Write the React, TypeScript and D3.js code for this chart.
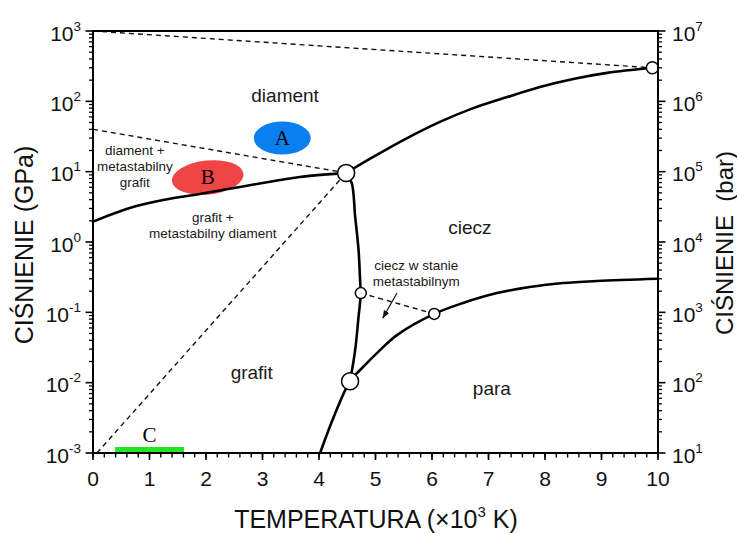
import React from "react";
import * as d3 from "d3";

const W = 737;
const H = 534;

// Phase boundaries of carbon, as [T (×10³ K), p (GPa)]
const graphiteDiamond: [number, number][] = [
  [0, 1.95], [0.65, 3.05], [1.24, 3.96], [1.89, 4.82], [2.6, 6.06],
  [3.31, 7.62], [3.66, 8.41], [4.48, 9.6],
];
const diamondLiquid: [number, number][] = [
  [4.48, 9.6], [4.96, 16.2], [5.56, 30], [6.14, 51], [6.73, 80],
  [7.33, 115], [7.91, 160], [8.5, 208], [9.1, 254], [9.9, 300],
];
const graphiteLiquid: [number, number][] = [
  [4.48, 9.6], [4.58, 6.85], [4.64, 2.29], [4.7, 0.77], [4.73, 0.259],
  [4.74, 0.188], [4.7, 0.0866], [4.64, 0.029], [4.55, 0.0105],
];
const liquidVapour: [number, number][] = [
  [4.02, 0.001], [4.25, 0.0031], [4.55, 0.0105], [4.78, 0.0167], [5.08, 0.029],
  [5.38, 0.0475], [6.04, 0.095], [6.55, 0.136], [7.15, 0.188], [7.73, 0.229],
  [8.32, 0.261], [8.92, 0.279], [10, 0.3],
];

// Metastable extensions, drawn dashed
const metastableLines: [number, number][][] = [
  [[0, 1000], [9.9, 300]],
  [[0, 40], [4.48, 9.6]],
  [[0.07, 0.001], [4.48, 9.6]],
  [[4.74, 0.188], [6.04, 0.095]],
];

// Special points on the diagram
const points: { T: number; p: number; kind: "triple" | "end" | "meta" }[] = [
  { T: 4.48, p: 9.6, kind: "triple" },
  { T: 4.55, p: 0.0105, kind: "triple" },
  { T: 9.9, p: 300, kind: "end" },
  { T: 4.74, p: 0.188, kind: "meta" },
  { T: 6.04, p: 0.095, kind: "meta" },
];

// Highlighted regions
const regionA = { T: 3.35, p: 30, label: "A" };
const regionB = { T: 2.03, p: 8.27, label: "B" };
const regionC = { T0: 0.39, T1: 1.61, p: 0.001, label: "C", labelT: 1.0 };

// Arrow into the metastable liquid region
const arrow: [number, number][] = [[5.38, 0.188], [5.13, 0.083]];

// Region labels: text lines, T and p of the first baseline
const regionLabels: { lines: string[]; T: number; p: number; big: boolean }[] = [
  { lines: ["diament"], T: 3.4, p: 98, big: true },
  { lines: ["diament +", "metastabilny", "grafit"], T: 0.74, p: 17.3, big: false },
  { lines: ["grafit +", "metastabilny diament"], T: 2.12, p: 1.92, big: false },
  { lines: ["ciecz"], T: 6.67, p: 1.3, big: true },
  { lines: ["ciecz w stanie", "metastabilnym"], T: 5.72, p: 0.4, big: false },
  { lines: ["grafit"], T: 2.81, p: 0.0113, big: true },
  { lines: ["para"], T: 7.06, p: 0.0067, big: true },
];

const xMajor = d3.range(0, 11, 1);
const xMinor = d3.range(0, 10.001, 0.2);
const leftExponents = [-3, -2, -1, 0, 1, 2, 3];
const rightExponents = [1, 2, 3, 4, 5, 6, 7];

const SANS = "'Liberation Sans', Arial, sans-serif";
const SERIF = "'Liberation Serif', 'Times New Roman', serif";

export default function App() {
  const x = d3.scaleLinear().domain([0, 10]).range([93, 658]);
  const y = d3.scaleLog().domain([1e-3, 1e3]).range([453, 31]);
  const yBar = d3.scaleLog().domain([1e1, 1e7]).range([453, 31]);

  const curve = d3
    .line<[number, number]>()
    .x((d) => x(d[0]))
    .y((d) => y(d[1]))
    .curve(d3.curveCatmullRom.alpha(0.5));
  const straight = d3
    .line<[number, number]>()
    .x((d) => x(d[0]))
    .y((d) => y(d[1]));

  const minorLog = (lo: number, hi: number) => {
    const out: number[] = [];
    for (let k = lo; k < hi; k++) for (let m = 2; m <= 9; m++) out.push(m * Math.pow(10, k));
    return out;
  };
  const leftMinor = minorLog(-3, 3);
  const rightMinor = minorLog(1, 7);

  const radius = { triple: 8.5, end: 6, meta: 5.5 };

  const x0 = x(0), x1 = x(10), yTop = y(1e3), yBot = y(1e-3);

  return (
    <svg
      width={W}
      height={H}
      style={{ position: "absolute", left: 0, top: 0, background: "#fff" }}
      fontFamily={SANS}
    >
      <defs>
        <marker id="arrowHead" viewBox="0 0 10 10" refX="9" refY="5" markerWidth="7" markerHeight="9" orient="auto">
          <path d="M0,1.5 L10,5 L0,8.5 z" fill="#111" />
        </marker>
      </defs>
      <rect width={W} height={H} fill="#fff" />

      {/* highlighted regions */}
      <ellipse cx={x(regionA.T)} cy={y(regionA.p)} rx={28.5} ry={16.5} fill="#0a80f0" />
      <ellipse
        cx={x(regionB.T)}
        cy={y(regionB.p)}
        rx={36}
        ry={17}
        fill="#f04545"
        transform={`rotate(-6 ${x(regionB.T)} ${y(regionB.p)})`}
      />
      <rect
        x={x(regionC.T0)}
        y={y(regionC.p) - 6}
        width={x(regionC.T1) - x(regionC.T0)}
        height={5.5}
        fill="#22e622"
      />

      {/* metastable extensions */}
      {metastableLines.map((l, i) => (
        <path key={i} d={straight(l) || ""} fill="none" stroke="#111" strokeWidth={1.4} strokeDasharray="5,4" />
      ))}

      {/* phase boundaries */}
      {[graphiteDiamond, diamondLiquid, graphiteLiquid, liquidVapour].map((c, i) => (
        <path key={i} d={curve(c) || ""} fill="none" stroke="#000" strokeWidth={2.6} strokeLinecap="round" />
      ))}

      {/* arrow */}
      <line
        x1={x(arrow[0][0])}
        y1={y(arrow[0][1])}
        x2={x(arrow[1][0])}
        y2={y(arrow[1][1])}
        stroke="#111"
        strokeWidth={1.2}
        markerEnd="url(#arrowHead)"
      />

      {/* special points */}
      {points.map((pt, i) => (
        <circle key={i} cx={x(pt.T)} cy={y(pt.p)} r={radius[pt.kind]} fill="#fff" stroke="#000" strokeWidth={1.5} />
      ))}

      {/* region letters */}
      <text x={x(regionA.T)} y={y(regionA.p) + 7} textAnchor="middle" fontFamily={SERIF} fontSize={21} fill="#000">
        {regionA.label}
      </text>
      <text x={x(regionB.T)} y={y(regionB.p) + 7} textAnchor="middle" fontFamily={SERIF} fontSize={21} fill="#000">
        {regionB.label}
      </text>
      <text x={x(regionC.labelT)} y={y(regionC.p) - 11} textAnchor="middle" fontFamily={SERIF} fontSize={21} fill="#000">
        {regionC.label}
      </text>

      {/* region names */}
      {regionLabels.map((r, i) => (
        <text
          key={i}
          x={x(r.T)}
          y={y(r.p)}
          textAnchor="middle"
          fontSize={r.big ? 19 : 13.5}
          fill="#1a1a1a"
        >
          {r.lines.map((line, j) => (
            <tspan key={j} x={x(r.T)} dy={j === 0 ? 0 : 16}>
              {line}
            </tspan>
          ))}
        </text>
      ))}

      {/* frame */}
      <rect x={x0} y={yTop} width={x1 - x0} height={yBot - yTop} fill="none" stroke="#000" strokeWidth={2} />

      {/* bottom axis */}
      {xMinor.map((t, i) => (
        <line key={"xm" + i} x1={x(t)} x2={x(t)} y1={yBot} y2={yBot + 4.5} stroke="#000" strokeWidth={1.4} />
      ))}
      {xMajor.map((t) => (
        <g key={"xM" + t}>
          <line x1={x(t)} x2={x(t)} y1={yBot} y2={yBot + 7} stroke="#000" strokeWidth={1.6} />
          <text x={x(t)} y={486} textAnchor="middle" fontSize={21} fill="#111">
            {t}
          </text>
        </g>
      ))}

      {/* left axis */}
      {leftMinor.map((v, i) => (
        <line key={"lm" + i} x1={x0} x2={x0 - 4} y1={y(v)} y2={y(v)} stroke="#000" strokeWidth={1.3} />
      ))}
      {leftExponents.map((e) => (
        <g key={"lM" + e}>
          <line x1={x0} x2={x0 - 7.5} y1={y(Math.pow(10, e))} y2={y(Math.pow(10, e))} stroke="#000" strokeWidth={1.6} />
          <text x={81} y={y(Math.pow(10, e)) + 9.5} textAnchor="end" fontSize={21} fill="#111">
            10
            <tspan dy={-10} fontSize={13.5}>
              {e < 0 ? "-" + Math.abs(e) : String(e)}
            </tspan>
          </text>
        </g>
      ))}

      {/* right axis (bar) */}
      {rightMinor.map((v, i) => (
        <line key={"rm" + i} x1={x1} x2={x1 + 4} y1={yBar(v)} y2={yBar(v)} stroke="#000" strokeWidth={1.3} />
      ))}
      {rightExponents.map((e) => (
        <g key={"rM" + e}>
          <line x1={x1} x2={x1 + 7.5} y1={yBar(Math.pow(10, e))} y2={yBar(Math.pow(10, e))} stroke="#000" strokeWidth={1.6} />
          <text x={672} y={yBar(Math.pow(10, e)) + 9.5} textAnchor="start" fontSize={21} fill="#111">
            10
            <tspan dy={-10} fontSize={13.5}>
              {String(e)}
            </tspan>
          </text>
        </g>
      ))}

      {/* axis titles */}
      <text x={376} y={528} textAnchor="middle" fontSize={25} fill="#111">
        TEMPERATURA (×10
        <tspan dy={-11} fontSize={15}>3</tspan>
        <tspan dy={11}> K)</tspan>
      </text>
      <text transform="translate(33,245) rotate(-90)" textAnchor="middle" fontSize={25} fill="#111">
        CIŚNIENIE (GPa)
      </text>
      <text transform="translate(733,243) rotate(-90)" textAnchor="middle" fontSize={24} fill="#111" style={{ whiteSpace: "pre" }}>
        {"CIŚNIENIE  (bar)"}
      </text>
    </svg>
  );
}
